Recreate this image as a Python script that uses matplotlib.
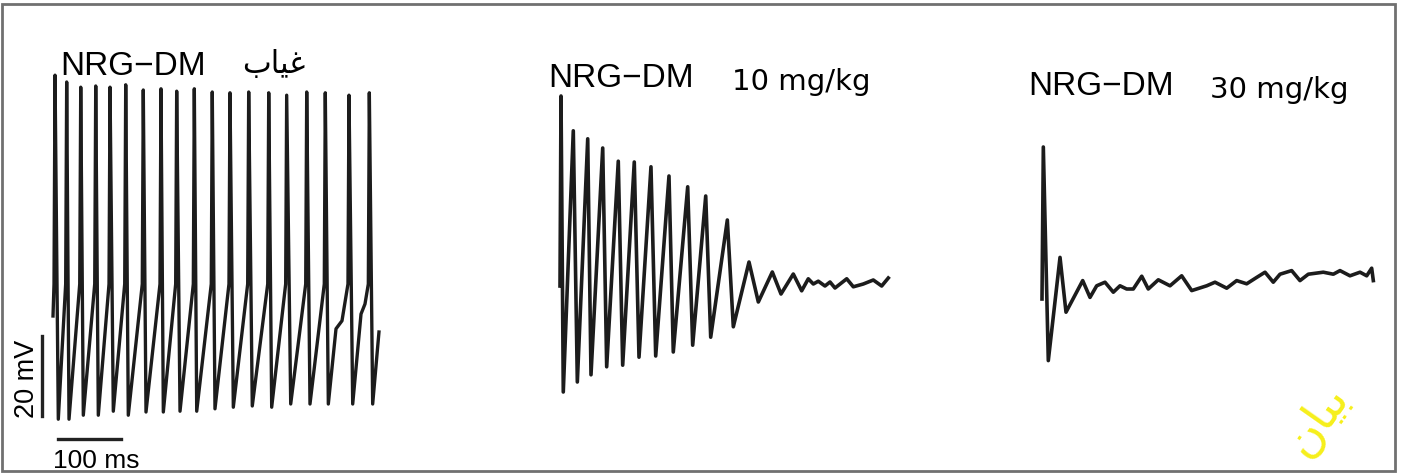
"""
Three membrane-potential traces (NRG-DM: absent, 10 mg/kg, 30 mg/kg)
redrawn as line plots, with the 20 mV / 100 ms scale bar.
"""

import numpy as np
import matplotlib
matplotlib.use("Agg")
import matplotlib.pyplot as plt

W, H = 1404, 477
PX_PER_MS = 0.63   # 100 ms bar is ~63 px long
PX_PER_MV = 4.0    # 20 mV bar is ~80 px tall

# ---- panel 1 : no drug (tonic firing) ----
LEFT_PEAK_T = [4.8, 23.3, 45.6, 69.4, 92.1, 117.0, 144.9, 173.0, 197.9, 225.9,
               254.4, 282.5, 312.2, 344.0, 372.5, 404.3, 433.8, 471.4, 503.7]
LEFT_PEAK_V = [60.2, 58.5, 57.2, 57.5, 57.2, 57.8, 56.5, 56.8, 56.2, 56.8,
               56.0, 55.8, 56.0, 55.8, 55.2, 56.0, 55.8, 55.2, 55.8]
LEFT_TROUGH_T = [10.0, 27.0, 49.7, 73.5, 97.3, 121.1, 149.2, 176.7, 203.2, 229.7,
                 258.7, 287.8, 317.9, 348.7, 378.9, 409.5, 438.6, 477.3, 509.0]
LEFT_TROUGH_V = [-25.8, -25.8, -24.8, -24.8, -23.8, -24.8, -24.0, -24.0, -23.8, -23.8,
                 -23.2, -22.8, -22.5, -22.8, -22.0, -22.0, -22.0, -22.0, -22.0]
LEFT_THRESHOLD = 8.0
LEFT_SHOULDER_T = [450.8, 460.3, 490.5, 496.8]
LEFT_SHOULDER_V = [-3.2, -1.2, 0.5, 3.0]
LEFT_START = (1.6, 0.0)
LEFT_END = (519.0, -4.0)

# ---- panel 2 : 10 mg/kg (run-down of spikes) ----
MID_PEAK_T = [1.6, 21.1, 44.0, 67.8, 92.5, 117.9, 144.4, 173.0, 202.7, 231.3, 265.6]
MID_PEAK_V = [47.5, 38.8, 36.8, 34.5, 31.2, 31.0, 29.8, 27.5, 24.8, 22.5, 16.5]
MID_TROUGH_T = [5.2, 27.5, 49.2, 74.1, 99.5, 125.4, 151.9, 179.8, 210.6, 239.2, 275.1]
MID_TROUGH_V = [-26.5, -24.0, -22.2, -20.2, -19.8, -17.8, -17.5, -16.5, -14.8, -12.8, -10.2]
MID_TAIL_T = [300.0, 314.8, 337.0, 350.8, 370.3, 383.6, 394.1, 402.1, 410.0,
              420.6, 428.6, 436.5, 455.1, 465.6, 481.4, 497.3, 510.6, 521.1]
MID_TAIL_V = [6.0, -4.0, 3.5, -2.0, 3.0, -1.2, 1.8, 0.5, 1.2,
              0.0, 1.0, -0.5, 1.8, -0.2, 0.5, 1.5, 0.0, 2.0]
MID_START = (0.0, 0.0)

# ---- panel 3 : 30 mg/kg (single spike) ----
RIGHT_T = [0.0, 2.1, 10.0, 28.6, 38.1, 64.6, 76.2, 86.8, 100.0, 113.2, 123.8,
           134.4, 144.9, 158.3, 168.7, 184.6, 203.2, 221.7, 237.6, 261.4, 274.6,
           293.2, 309.0, 324.9, 340.8, 354.0, 367.1, 377.8, 396.3, 409.5, 422.7,
           446.5, 462.4, 473.0, 488.9, 504.8, 515.4, 523.3, 525.9]
RIGHT_V = [0.0, 38.0, -15.4, 10.4, -3.3, 4.6, 0.4, 3.3, 4.2, 1.7, 3.3,
           2.5, 2.5, 5.7, 2.5, 4.8, 3.3, 5.8, 2.1, 3.3, 4.2,
           2.7, 4.6, 3.8, 5.4, 6.7, 4.2, 6.2, 7.1, 4.6, 6.2,
           6.7, 6.2, 7.1, 5.8, 6.7, 5.8, 7.7, 4.6]

SCALE_MS = 100
SCALE_MV = 20

TRACE_COLOR = "#1c1c1c"


def build_left():
    t = [LEFT_START[0], LEFT_END[0]]
    v = [LEFT_START[1], LEFT_END[1]]
    t += LEFT_PEAK_T + LEFT_TROUGH_T + LEFT_SHOULDER_T
    v += LEFT_PEAK_V + LEFT_TROUGH_V + LEFT_SHOULDER_V
    # threshold knee just before each spike
    t += [p - 1.6 for p in LEFT_PEAK_T]
    v += [LEFT_THRESHOLD] * len(LEFT_PEAK_T)
    t, v = np.array(t), np.array(v)
    order = np.argsort(t, kind="stable")
    return t[order], v[order]


def build_mid():
    t = np.array([MID_START[0]] + MID_PEAK_T + MID_TROUGH_T + MID_TAIL_T)
    v = np.array([MID_START[1]] + MID_PEAK_V + MID_TROUGH_V + MID_TAIL_V)
    order = np.argsort(t, kind="stable")
    return t[order], v[order]


def trace_axes(fig, x0, y0):
    """Full-figure transparent axes whose (0 ms, 0 mV) sits at pixel (x0, y0)."""
    ax = fig.add_axes([0, 0, 1, 1])
    ax.set_xlim(-x0 / PX_PER_MS, (W - x0) / PX_PER_MS)
    ax.set_ylim(-(H - y0) / PX_PER_MV, y0 / PX_PER_MV)
    ax.patch.set_alpha(0)
    ax.axis("off")
    return ax


fig = plt.figure(figsize=(W / 100, H / 100), dpi=100)
fig.patch.set_facecolor("white")

# background axes in pixel units for frame and labels
ax0 = fig.add_axes([0, 0, 1, 1])
ax0.set_xlim(0, W)
ax0.set_ylim(H, 0)
ax0.axis("off")
ax0.add_patch(plt.Rectangle((1.5, 5), 1393, 467, fill=False,
                            edgecolor="#707070", linewidth=2.0))

ax1 = trace_axes(fig, 52, 317)
t1, v1 = build_left()
ax1.plot(t1, v1, color=TRACE_COLOR, linewidth=2.4, solid_joinstyle="round")
# scale bars
ax1.plot([9.5, 9.5 + SCALE_MS], [-30.7, -30.7], color="#222222", linewidth=2.4)
ax1.plot([-15.6, -15.6], [-5.0, -5.0 - SCALE_MV], color="#222222", linewidth=2.4)

ax2 = trace_axes(fig, 560, 287)
t2, v2 = build_mid()
ax2.plot(t2, v2, color=TRACE_COLOR, linewidth=2.6, solid_joinstyle="round")

ax3 = trace_axes(fig, 1042, 300)
ax3.plot(RIGHT_T, RIGHT_V, color=TRACE_COLOR, linewidth=2.6, solid_joinstyle="round")

# labels
arial = ["Liberation Sans", "DejaVu Sans"]
verd = ["DejaVu Sans"]
ax0.text(60, 75, "NRG\u2212DM", fontsize=24, family=arial, va="baseline")
# "غياب" written with presentation forms in visual order
ax0.text(305, 73, "\uFE8F\uFE8E\uFEF4\uFECF", fontsize=22, family=verd,
         ha="right", va="baseline")
ax0.text(548, 87, "NRG\u2212DM", fontsize=24, family=arial, va="baseline")
ax0.text(732, 90, "10 mg/kg", fontsize=21, family=verd, va="baseline")
ax0.text(1028, 95, "NRG\u2212DM", fontsize=24, family=arial, va="baseline")
ax0.text(1210, 98, "30 mg/kg", fontsize=21, family=verd, va="baseline")

ax0.text(27, 379, "20 mV", fontsize=19.5, family=arial, rotation=90,
         ha="center", va="center")
ax0.text(53, 468, "100 ms", fontsize=19, family=arial, va="baseline")

# yellow watermark fragment
ax0.text(1318, 420, "\uFEE5\uFE8E\uFEF4\uFE91", fontsize=34, family=verd,
         color="#f6ef1a", rotation=55, ha="center", va="center")

fig.savefig("out.png", dpi=100)
